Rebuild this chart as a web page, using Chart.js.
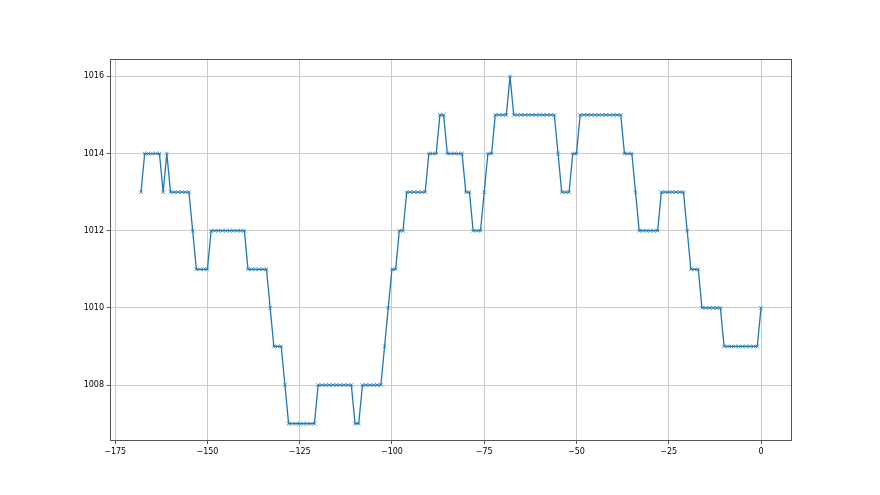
<!DOCTYPE html>
<html>
<head>
<meta charset="utf-8">
<script src="https://cdn.jsdelivr.net/npm/chart.js@4.4.1/dist/chart.umd.min.js"></script>
<style>
  html, body { margin: 0; padding: 0; background: #fff; }
  #chart { display: block; }
</style>
</head>
<body>
<canvas id="chart" width="880" height="495"></canvas>
<script>
// hours before now
const hours = [
  -168, -167, -166, -165, -164, -163, -162, -161, -160, -159,
  -158, -157, -156, -155, -154, -153, -152, -151, -150, -149,
  -148, -147, -146, -145, -144, -143, -142, -141, -140, -139,
  -138, -137, -136, -135, -134, -133, -132, -131, -130, -129,
  -128, -127, -126, -125, -124, -123, -122, -121, -120, -119,
  -118, -117, -116, -115, -114, -113, -112, -111, -110, -109,
  -108, -107, -106, -105, -104, -103, -102, -101, -100, -99,
  -98, -97, -96, -95, -94, -93, -92, -91, -90, -89,
  -88, -87, -86, -85, -84, -83, -82, -81, -80, -79,
  -78, -77, -76, -75, -74, -73, -72, -71, -70, -69,
  -68, -67, -66, -65, -64, -63, -62, -61, -60, -59,
  -58, -57, -56, -55, -54, -53, -52, -51, -50, -49,
  -48, -47, -46, -45, -44, -43, -42, -41, -40, -39,
  -38, -37, -36, -35, -34, -33, -32, -31, -30, -29,
  -28, -27, -26, -25, -24, -23, -22, -21, -20, -19,
  -18, -17, -16, -15, -14, -13, -12, -11, -10, -9,
  -8, -7, -6, -5, -4, -3, -2, -1, 0
];

// pressure readings (hPa)
const pressure = [
  1013, 1014, 1014, 1014, 1014, 1014, 1013, 1014, 1013, 1013,
  1013, 1013, 1013, 1013, 1012, 1011, 1011, 1011, 1011, 1012,
  1012, 1012, 1012, 1012, 1012, 1012, 1012, 1012, 1012, 1011,
  1011, 1011, 1011, 1011, 1011, 1010, 1009, 1009, 1009, 1008,
  1007, 1007, 1007, 1007, 1007, 1007, 1007, 1007, 1008, 1008,
  1008, 1008, 1008, 1008, 1008, 1008, 1008, 1008, 1007, 1007,
  1008, 1008, 1008, 1008, 1008, 1008, 1009, 1010, 1011, 1011,
  1012, 1012, 1013, 1013, 1013, 1013, 1013, 1013, 1014, 1014,
  1014, 1015, 1015, 1014, 1014, 1014, 1014, 1014, 1013, 1013,
  1012, 1012, 1012, 1013, 1014, 1014, 1015, 1015, 1015, 1015,
  1016, 1015, 1015, 1015, 1015, 1015, 1015, 1015, 1015, 1015,
  1015, 1015, 1015, 1014, 1013, 1013, 1013, 1014, 1014, 1015,
  1015, 1015, 1015, 1015, 1015, 1015, 1015, 1015, 1015, 1015,
  1015, 1014, 1014, 1014, 1013, 1012, 1012, 1012, 1012, 1012,
  1012, 1013, 1013, 1013, 1013, 1013, 1013, 1013, 1012, 1011,
  1011, 1011, 1010, 1010, 1010, 1010, 1010, 1010, 1009, 1009,
  1009, 1009, 1009, 1009, 1009, 1009, 1009, 1009, 1010
];

const xTicks = [-175, -150, -125, -100, -75, -50, -25, 0];
const yTicks = [1008, 1010, 1012, 1014, 1016];

const points = hours.map((h, i) => ({ x: h, y: pressure[i] }));

// matplotlib style full box around the axes
const frame = {
  id: "frame",
  afterDatasetsDraw(chart) {
    const { ctx, chartArea: a } = chart;
    ctx.save();
    ctx.strokeStyle = "#555";
    ctx.lineWidth = 1;
    ctx.strokeRect(a.left + 0.5, a.top + 0.5, a.right - a.left - 1, a.bottom - a.top - 1);
    ctx.restore();
  },
};

const fixTicks = (values) => (scale) => {
  scale.ticks = values.map((v) => ({ value: v }));
};

const tickFont = { family: "DejaVu Sans", size: 8 };

new Chart(document.getElementById("chart"), {
  type: "line",
  data: {
    datasets: [
      {
        data: points,
        borderColor: "#1f77b4",
        borderWidth: 1.3,
        tension: 0,
        pointStyle: "crossRot",
        pointRadius: 2.6,
        pointBorderWidth: 1,
        pointBorderColor: "rgba(31,119,180,0.75)",
        pointBackgroundColor: "rgba(31,119,180,0.75)",
      },
    ],
  },
  options: {
    responsive: false,
    animation: false,
    layout: { padding: { left: 0, top: 59, right: 88, bottom: 0 } },
    plugins: {
      legend: { display: false },
      tooltip: { enabled: false },
    },
    scales: {
      x: {
        type: "linear",
        min: -176.4,
        max: 8.4,
        afterBuildTicks: fixTicks(xTicks),
        afterFit(scale) {
          scale.height = 54;
        },
        border: { display: false },
        grid: { color: "#cacaca", lineWidth: 1, tickLength: 3, tickColor: "#555" },
        ticks: {
          color: "#000",
          font: tickFont,
          padding: 3,
          maxRotation: 0,
          callback: (v) => String(v).replace("-", "\u2212"),
        },
      },
      y: {
        type: "linear",
        min: 1006.55,
        max: 1016.45,
        afterBuildTicks: fixTicks(yTicks),
        afterFit(scale) {
          scale.width = 110;
        },
        border: { display: false },
        grid: { color: "#cacaca", lineWidth: 1, tickLength: 3, tickColor: "#555" },
        ticks: {
          color: "#000",
          font: tickFont,
          padding: 3,
          callback: (v) => String(v),
        },
      },
    },
  },
  plugins: [frame],
});
</script>
</body>
</html>
